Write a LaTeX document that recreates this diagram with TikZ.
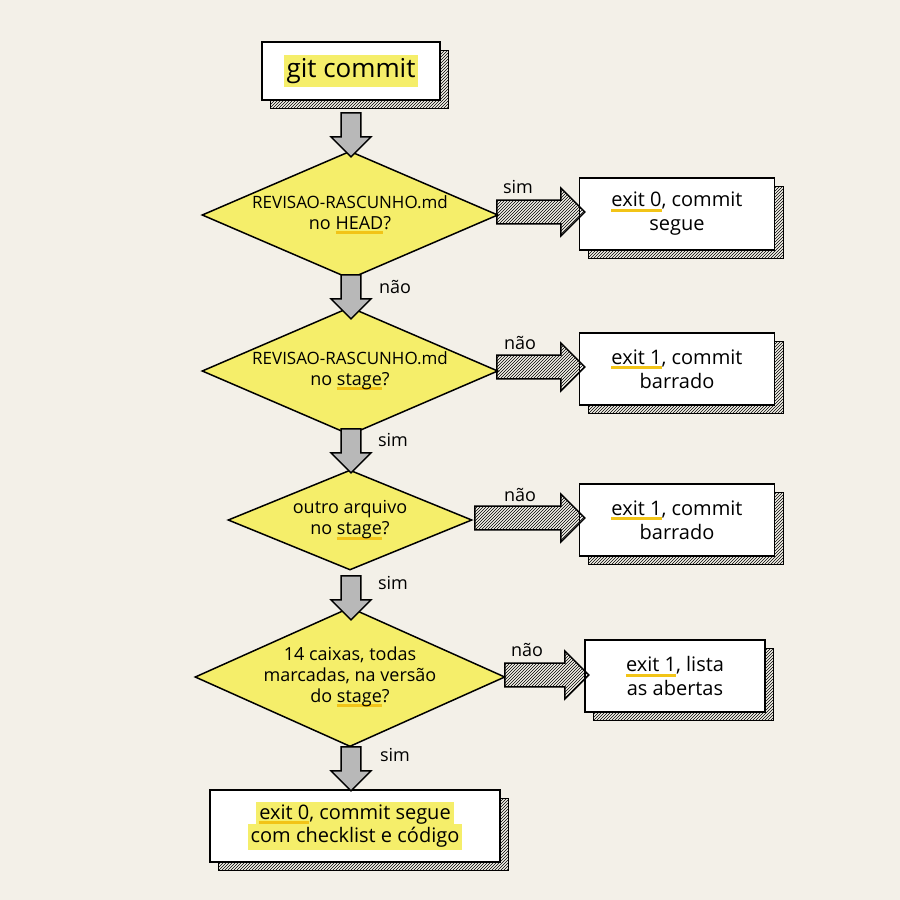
\documentclass[tikz,border=0pt]{standalone}
\usepackage{fontspec}
\setmainfont{Open Sans}
\usetikzlibrary{shapes.geometric,shapes.arrows,patterns}
\definecolor{bg}{HTML}{F3F0E8}
\definecolor{hl}{HTML}{F5EE6A}
\definecolor{ulc}{HTML}{F2C417}
\definecolor{ag}{HTML}{B8B8B8}
\newcommand{\yu}[1]{\setbox0\hbox{#1}\rlap{\textcolor{ulc}{\rule[-5pt]{\wd0}{3pt}}}\box0}
\begin{document}
\begin{tikzpicture}[x=1pt,y=-1pt,
 box/.style={draw,line width=1.5pt,fill=white,align=center,font=\fontsize{20}{24}\selectfont,inner sep=0pt},
 dia/.style={draw,line width=1.5pt,fill=hl,diamond,aspect=2.2,align=center,inner sep=0pt,font=\fontsize{18}{21}\selectfont},
 darr/.style={draw,line width=1.4pt,fill=ag,single arrow,shape border rotate=270,minimum height=44pt,minimum width=40pt,single arrow head extend=8pt,inner sep=7pt},
 rarr/.style={draw,line width=1.4pt,pattern=north east lines,single arrow,minimum width=48pt,single arrow head extend=10pt,inner sep=9pt},
 lab/.style={font=\fontsize{18}{20}\selectfont},
 shad/.style={pattern=north east lines,draw,line width=0.8pt}]
\fill[bg] (0,0) rectangle (900,900);
\useasboundingbox (0,0) rectangle (900,900);
% shadows
\foreach \a/\b/\c/\d in {262/42/440/100, 580/178/775/250, 580/333/775/405, 580/484/775/556, 585/640/765/712, 210/790/500/862}{
 \path[shad] (\a+8,\b+8) rectangle (\c+8,\d+8);
}
% boxes
\node[box,minimum width=178pt,minimum height=58pt] (start) at (351,71) {\colorbox{hl}{\fontsize{26}{30}\selectfont git commit}};
\node[dia,minimum width=296pt,minimum height=108pt] (d1) at (350,215) {\fontsize{17}{20}\selectfont REVISAO-RASCUNHO.md\\no \yu{HEAD}?};
\node[dia,minimum width=296pt,minimum height=106pt] (d2) at (350,371) {\fontsize{17}{20}\selectfont REVISAO-RASCUNHO.md\\no \yu{stage}?};
\node[dia,minimum width=244pt,minimum height=100pt] (d3) at (350,520) {outro arquivo\\no \yu{stage}?};
\node[dia,minimum width=310pt,minimum height=126pt] (d4) at (350,677) {14 caixas, todas\\marcadas, na versão\\do \yu{stage}?};
\node[box,minimum width=195pt,minimum height=72pt] (b1) at (677,214) {\yu{exit 0}, commit\\segue};
\node[box,minimum width=195pt,minimum height=72pt] (b2) at (677,369) {\yu{exit 1}, commit\\barrado};
\node[box,minimum width=195pt,minimum height=72pt] (b3) at (677,520) {\yu{exit 1}, commit\\barrado};
\node[box,minimum width=180pt,minimum height=72pt] (b4) at (675,676) {\yu{exit 1}, lista\\as abertas};
\node[box,minimum width=290pt,minimum height=72pt] (end) at (355,826) {\colorbox{hl}{\yu{exit 0}, commit segue}\\[-4pt]\colorbox{hl}{com checklist e código}};
% down arrows
\node[darr] (a0) at (351,130) {};
\node[darr] (a1) at (351,292) {};
\node[darr] (a2) at (351,446) {};
\node[darr] (a3) at (351,593) {};
\node[darr] (a4) at (351,764) {};
% right arrows
\node[rarr,minimum height=88pt] (r1) at (535,212) {};
\node[rarr,minimum height=88pt] (r2) at (535,367) {};
\node[rarr,minimum height=110pt] (r3) at (524,518) {};
\node[rarr,minimum height=84pt] (r4) at (541,675) {};
% labels
\node[lab] at (518,187) {sim};
\node[lab] at (520,343) {não};
\node[lab] at (520,495) {não};
\node[lab] at (527,650) {não};
\node[lab] at (395,287) {não};
\node[lab] at (393,440) {sim};
\node[lab] at (393,583) {sim};
\node[lab] at (395,755) {sim};
\end{tikzpicture}
\end{document}
